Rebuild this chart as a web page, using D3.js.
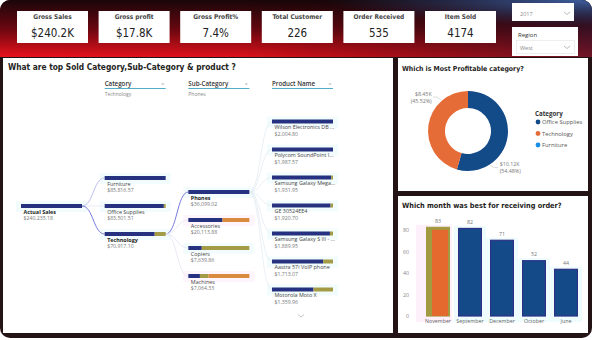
<!DOCTYPE html>
<html>
<head>
<meta charset="utf-8">
<script src="https://cdn.jsdelivr.net/npm/d3@7"></script>
<style>
  body { margin: 0; background: #fff; }
  svg { display: block; }
  text { font-family: "Open Sans", sans-serif; }
  .ttl { font-family: "DejaVu Sans Condensed", "DejaVu Sans", sans-serif; font-weight: bold; }
</style>
</head>
<body>
<div id="vis"></div>
<script>
// ---- data ----
const kpiTitles = ["Gross Sales", "Gross profit", "Gross Profit%", "Total Customer", "Order Received", "Item Sold"];
const kpiValues = ["$240.2K", "$17.8K", "7.4%", "226", "535", "4174"];

const rootName = "Actual Sales";
const rootSales = 240235.18;
const categories = ["Furniture", "Office Supplies", "Technology"];
const categorySales = [85816.57, 83501.51, 70917.10];
const categoryMix = [[1, 0, 0], [0.97, 0.03, 0], [0.82, 0.18, 0]];
const subCategories = ["Phones", "Accessories", "Copiers", "Machines"];
const subCategorySales = [36099.02, 20113.88, 7639.86, 7064.33];
const subCategoryMix = [[1, 0, 0], [0.56, 0, 0.44], [0.22, 0.78, 0], [0.19, 0.14, 0.67]];
const products = ["Wilson Electronics DB ...", "Polycom SoundPoint I...", "Samsung Galaxy Mega...",
  "GE 30524EE4", "Samsung Galaxy S III - ...", "Aastra 57i VoIP phone", "Motorola Moto X"];
const productSales = [2004.80, 1987.57, 1931.95, 1920.70, 1889.95, 1713.07, 1359.96];
const productMix = [[1, 0, 0], [1, 0, 0], [0.97, 0.03, 0], [0.96, 0.04, 0], [0.95, 0.05, 0], [0.84, 0.16, 0], [0.68, 0.32, 0]];

const profitCategories = ["Office Supplies", "Technology", "Furniture"];
const profitValues = [10.12, 8.45, 0];
const profitLabels = ["$10.12K", "$8.45K", ""];
const profitPct = ["(54.48%)", "(45.52%)", ""];

const months = ["November", "September", "December", "October", "June"];
const orders = [83, 82, 71, 52, 44];
const orderTicks = [0, 20, 40, 60, 80];

// ---- frame ----
const W = 596, H = 340;
const svg = d3.select("#vis").append("svg").attr("width", W).attr("height", H);
const defs = svg.append("defs");

defs.append("clipPath").attr("id", "frameClip")
  .append("rect").attr("x", 0).attr("y", 0).attr("width", 592).attr("height", 338).attr("rx", 10);

let vg = defs.append("linearGradient").attr("id", "hdrV")
  .attr("x1", 0).attr("y1", 0).attr("x2", 0).attr("y2", 1);
vg.append("stop").attr("offset", "0%").attr("stop-color", "#1a0609");
vg.append("stop").attr("offset", "50%").attr("stop-color", "#6a0710");
vg.append("stop").attr("offset", "100%").attr("stop-color", "#e8121c");

let hg = defs.append("linearGradient").attr("id", "hdrH")
  .attr("x1", 0).attr("y1", 0).attr("x2", 1).attr("y2", 0);
hg.append("stop").attr("offset", "0%").attr("stop-color", "#000").attr("stop-opacity", 0);
hg.append("stop").attr("offset", "40%").attr("stop-color", "#000").attr("stop-opacity", 0.05);
hg.append("stop").attr("offset", "75%").attr("stop-color", "#0a0a12").attr("stop-opacity", 0.35);
hg.append("stop").attr("offset", "100%").attr("stop-color", "#0e1630").attr("stop-opacity", 0.55);

let rg = defs.append("radialGradient").attr("id", "hdrR")
  .attr("cx", 1).attr("cy", 0).attr("r", 0.45);
rg.append("stop").attr("offset", "0%").attr("stop-color", "#3f5f9f").attr("stop-opacity", 1);
rg.append("stop").attr("offset", "100%").attr("stop-color", "#2a3f70").attr("stop-opacity", 0);

let frame = svg.append("g").attr("clip-path", "url(#frameClip)");
frame.append("rect").attr("width", 592).attr("height", 338).attr("fill", "#241314");
frame.append("rect").attr("width", 592).attr("height", 57).attr("fill", "url(#hdrV)");
frame.append("rect").attr("width", 592).attr("height", 57).attr("fill", "url(#hdrH)");
frame.append("rect").attr("width", 592).attr("height", 57).attr("fill", "url(#hdrR)");

// panels
frame.append("rect").attr("x", 3).attr("y", 58).attr("width", 390).attr("height", 275).attr("fill", "#fff");
frame.append("rect").attr("x", 398).attr("y", 58).attr("width", 190).attr("height", 133).attr("fill", "#fff");
frame.append("rect").attr("x", 398).attr("y", 196).attr("width", 190).attr("height", 137).attr("fill", "#fff");

// ---- KPI cards ----
let kx = d3.scaleBand().domain(kpiTitles).range([17, 496]).paddingInner(0.13);
let cards = svg.append("g").selectAll("g").data(kpiTitles).enter().append("g")
  .attr("transform", (d) => "translate(" + kx(d) + ",11)");
cards.append("rect").attr("width", kx.bandwidth()).attr("height", 32).attr("fill", "#fff");
cards.append("text").attr("class", "ttl").attr("x", kx.bandwidth() / 2).attr("y", 7.5)
  .attr("text-anchor", "middle").attr("font-size", 6.5).attr("fill", "#444")
  .text((d) => d);
cards.append("text").attr("x", kx.bandwidth() / 2).attr("y", 26)
  .attr("text-anchor", "middle").attr("font-size", 11.5).attr("fill", "#222")
  .style("font-family", "'DejaVu Sans Condensed', 'DejaVu Sans', sans-serif")
  .text((d, i) => kpiValues[i]);

// slicers
let sl = svg.append("g");
sl.append("rect").attr("x", 512).attr("y", 3).attr("width", 62).attr("height", 18).attr("fill", "#fff");
sl.append("text").attr("x", 520).attr("y", 16).attr("font-size", 5.5).attr("fill", "#8a8a8a").text("2017");
sl.append("rect").attr("x", 512).attr("y", 27).attr("width", 66).attr("height", 29).attr("fill", "#fff");
sl.append("text").attr("x", 518).attr("y", 37).attr("font-size", 6).attr("fill", "#333").text("Region");
sl.append("rect").attr("x", 516.5).attr("y", 40.5).attr("width", 58).attr("height", 13)
  .attr("fill", "#fff").attr("stroke", "#e3e3e3").attr("stroke-width", 0.6);
sl.append("text").attr("x", 520).attr("y", 49.5).attr("font-size", 5.5).attr("fill", "#8a8a8a").text("West");
let chev = d3.line();
[[12], [46]].forEach((c) => {
  sl.append("path").attr("d", chev([[564, c[0]], [567, c[0] + 2.5], [570, c[0]]]))
    .attr("fill", "none").attr("stroke", "#999").attr("stroke-width", 0.7);
});

// ---- decomposition tree ----
let tree = svg.append("g");
tree.append("text").attr("class", "ttl").attr("x", 8).attr("y", 70)
  .attr("font-size", 8.3).attr("fill", "#252423")
  .text("What are top Sold Category,Sub-Category & product ?");

const levels = ["root", "Category", "Sub-Category", "Product Name"];
const levelPick = ["", "Technology", "Phones", ""];
let lx = d3.scalePoint().domain(levels).range([21, 272]);
const barW = 61, rowStep = 28;
const segColors = ["#26327f", "#a39b45", "#d98a3f"];
const money = d3.format("$,.2f");

// column headers
levels.slice(1).forEach((lv, i) => {
  let x = lx(lv);
  tree.append("text").attr("x", x).attr("y", 86).attr("font-size", 6.2)
    .attr("font-weight", 600).attr("fill", "#333").text(lv);
  tree.append("line").attr("x1", x).attr("x2", x + barW).attr("y1", 88.5).attr("y2", 88.5)
    .attr("stroke", "#3ea5c2").attr("stroke-width", 0.9);
  tree.append("text").attr("x", x + barW - 3).attr("y", 86).attr("font-size", 6)
    .attr("text-anchor", "middle").attr("fill", "#aaa").text("×");
  if (levelPick[i + 1]) {
    tree.append("text").attr("x", x).attr("y", 95.5).attr("font-size", 5)
      .attr("fill", "#888").text(levelPick[i + 1]);
  }
});

// node positions
let rootY = 204;
let catY = d3.scaleLinear().domain([0, 1]).range([rootY - rowStep, rootY]);
let techY = catY(categories.indexOf("Technology"));
let subY = d3.scaleLinear().domain([0, 1]).range([techY - 1.5 * rowStep, techY - 0.5 * rowStep]);
let prodY = d3.scaleLinear().domain([0, 1]).range([119.5, 119.5 + rowStep]);
let phonesY = subY(0);

let nodes = [{ name: rootName, value: rootSales, mix: [1, 0, 0], x: lx("root"), y: rootY, bold: true }];
categories.forEach((c, i) => nodes.push({ name: c, value: categorySales[i], mix: categoryMix[i], x: lx("Category"), y: catY(i), bold: c == "Technology" }));
subCategories.forEach((c, i) => nodes.push({ name: c, value: subCategorySales[i], mix: subCategoryMix[i], x: lx("Sub-Category"), y: subY(i), bold: c == "Phones" }));
products.forEach((c, i) => nodes.push({ name: c, value: productSales[i], mix: productMix[i], x: lx("Product Name"), y: prodY(i), bold: false }));

// links
let link = d3.linkHorizontal();
let links = [];
categories.forEach((c, i) => links.push({ s: [lx("root") + barW, rootY + 2], t: [lx("Category"), catY(i) + 2], on: c == "Technology", mid: c == "Furniture" }));
subCategories.forEach((c, i) => links.push({ s: [lx("Category") + barW, techY + 2], t: [lx("Sub-Category"), subY(i) + 2], on: c == "Phones" }));
products.forEach((c, i) => links.push({ s: [lx("Sub-Category") + barW, phonesY + 2], t: [lx("Product Name"), prodY(i) + 2], on: false, faint: true }));

// soft highlight behind nodes
tree.append("g").selectAll("rect").data(nodes).enter().append("rect")
  .attr("x", (d) => d.x - 5).attr("y", (d) => d.y - 3)
  .attr("width", barW + 10).attr("height", 11)
  .attr("fill", (d) => (d.mix[2] > 0.3 ? "#fef5fc" : "#f3fcfd"));

tree.append("g").selectAll("path").data(links).enter().append("path")
  .attr("d", (d) => link({ source: d.s, target: d.t }))
  .attr("fill", "none")
  .attr("stroke", (d) => (d.on ? "#6a6ed8" : d.mid ? "#a9b0e6" : d.faint ? "#e4ebf1" : "#e6e3f3"))
  .attr("stroke-width", (d) => (d.on ? 0.9 : 0.8));

let ng = tree.append("g").selectAll("g").data(nodes).enter().append("g")
  .attr("transform", (d) => "translate(" + d.x + "," + d.y + ")");
let segX = d3.scaleLinear().domain([0, 1]).range([0, barW]);
ng.each(function (d) {
  let acc = 0;
  let g = d3.select(this);
  d.mix.forEach((m, k) => {
    if (m > 0) {
      g.append("rect").attr("x", segX(acc)).attr("y", 0)
        .attr("width", segX(m)).attr("height", 4).attr("fill", segColors[k]);
    }
    acc += m;
  });
});
ng.append("text").attr("x", 2.5).attr("y", 9.5).attr("font-size", 5.4)
  .attr("font-weight", (d) => (d.bold ? 700 : 400))
  .attr("fill", (d) => (d.bold ? "#222" : "#444")).text((d) => d.name);
ng.append("text").attr("x", 2.5).attr("y", 16).attr("font-size", 5.2)
  .attr("fill", "#777").text((d) => money(d.value));

tree.append("path").attr("d", chev([[298, 314.5], [301, 317], [304, 314.5]]))
  .attr("fill", "none").attr("stroke", "#aaa").attr("stroke-width", 0.7);

// ---- donut ----
let dg = svg.append("g");
dg.append("text").attr("class", "ttl").attr("x", 402).attr("y", 70.5)
  .attr("font-size", 6.9).attr("fill", "#252423").text("Which is Most Profitable category?");
const donutColors = ["#134a88", "#e66c37", "#1a8fe3"];
let cx = 468, cy = 131, rOut = 40, rIn = 23;
let pie = d3.pie().sort(null).value((d) => d);
let arcs = pie(profitValues);
let arc = d3.arc().innerRadius(rIn).outerRadius(rOut);
let dc = dg.append("g").attr("transform", "translate(" + cx + "," + cy + ")");
dc.selectAll("path").data(arcs).enter().append("path")
  .attr("d", arc).attr("fill", (d, i) => donutColors[i]);

arcs.forEach((a, i) => {
  if (!profitLabels[i]) return;
  let ang = a.startAngle + 0.75 * (a.endAngle - a.startAngle);
  let px = Math.sin(ang) * (rOut + 1), py = -Math.cos(ang) * (rOut + 1);
  let left = px < 0;
  let ex = px + (left ? -4 : 4), ey = py + (left ? -3 : 2);
  let hx = ex + (left ? -4 : 4);
  dc.append("path").attr("d", d3.line()([[px, py], [ex, ey], [hx, ey]]))
    .attr("fill", "none").attr("stroke", "#bbb").attr("stroke-width", 0.5);
  let tx = hx + (left ? -1.5 : 1.5);
  let anchor = left ? "end" : "start";
  dc.append("text").attr("x", tx).attr("y", ey - 1).attr("text-anchor", anchor)
    .attr("font-size", 5.3).attr("fill", "#777").text(profitLabels[i]);
  dc.append("text").attr("x", tx).attr("y", ey + 6).attr("text-anchor", anchor)
    .attr("font-size", 5.3).attr("fill", "#777").text(profitPct[i]);
});

// legend
let lg = dg.append("g").attr("transform", "translate(535,0)");
lg.append("text").attr("x", 0).attr("y", 115.5).attr("font-size", 6.2)
  .attr("font-weight", 700).attr("fill", "#333").text("Category");
let ly = d3.scalePoint().domain(profitCategories).range([124, 147]);
profitCategories.forEach((c, i) => {
  lg.append("circle").attr("cx", 3).attr("cy", ly(c) - 2).attr("r", 2.4).attr("fill", donutColors[i]);
  lg.append("text").attr("x", 7).attr("y", ly(c)).attr("font-size", 5.8).attr("fill", "#555").text(c);
});

// ---- bar chart ----
let bg = svg.append("g");
bg.append("text").attr("class", "ttl").attr("x", 402).attr("y", 208)
  .attr("font-size", 7.3).attr("fill", "#252423").text("Which month was best for receiving order?");

let x = d3.scaleBand().domain(months).range([422, 582]).paddingInner(0.25).paddingOuter(0.125);
let y = d3.scaleLinear().domain([0, 80]).range([316, 230]);

// hover-like backgrounds
bg.append("g").selectAll("rect").data(months).enter().append("rect")
  .attr("x", (d) => x(d) - (d == "November" ? 10 : 4))
  .attr("y", (d, i) => y(orders[i]) - 2)
  .attr("width", (d) => x.bandwidth() + (d == "November" ? 12 : 8))
  .attr("height", (d, i) => y(0) - y(orders[i]) + 8)
  .attr("fill", (d) => (d == "November" ? "#fdf0fb" : "#effcfe"));

bg.append("g").selectAll("text").data(orderTicks).enter().append("text")
  .attr("x", 409).attr("y", (d) => y(d) + 2).attr("text-anchor", "end")
  .attr("font-size", 5.3).attr("fill", "#888").text((d) => d);

bg.append("g").selectAll("rect").data(months).enter().append("rect")
  .attr("x", (d) => x(d) + 0.6).attr("y", (d, i) => y(orders[i]) + 0.6)
  .attr("width", x.bandwidth() - 1.2).attr("height", (d, i) => y(0) - y(orders[i]) - 0.6)
  .attr("fill", (d) => (d == "November" ? "#a29a40" : "#144a88"))
  .attr("stroke", (d) => (d == "November" ? "#a29a40" : "#2e2f86")).attr("stroke-width", 1.2);
// selected bar inner colour
bg.append("rect").attr("x", x("November") + 6).attr("y", y(orders[0]) + 3)
  .attr("width", x.bandwidth() - 8).attr("height", y(0) - y(orders[0]) - 3)
  .attr("fill", "#e3692f");

bg.append("g").selectAll("text").data(months).enter().append("text")
  .attr("x", (d) => x(d) + x.bandwidth() / 2).attr("y", (d, i) => y(orders[i]) - 4)
  .attr("text-anchor", "middle").attr("font-size", 5.3).attr("fill", "#777")
  .text((d, i) => orders[i]);

bg.append("g").selectAll("text").data(months).enter().append("text")
  .attr("x", (d) => x(d) + x.bandwidth() / 2).attr("y", 323)
  .attr("text-anchor", "middle").attr("font-size", 5.3).attr("fill", "#666")
  .text((d) => d);
</script>
</body>
</html>
